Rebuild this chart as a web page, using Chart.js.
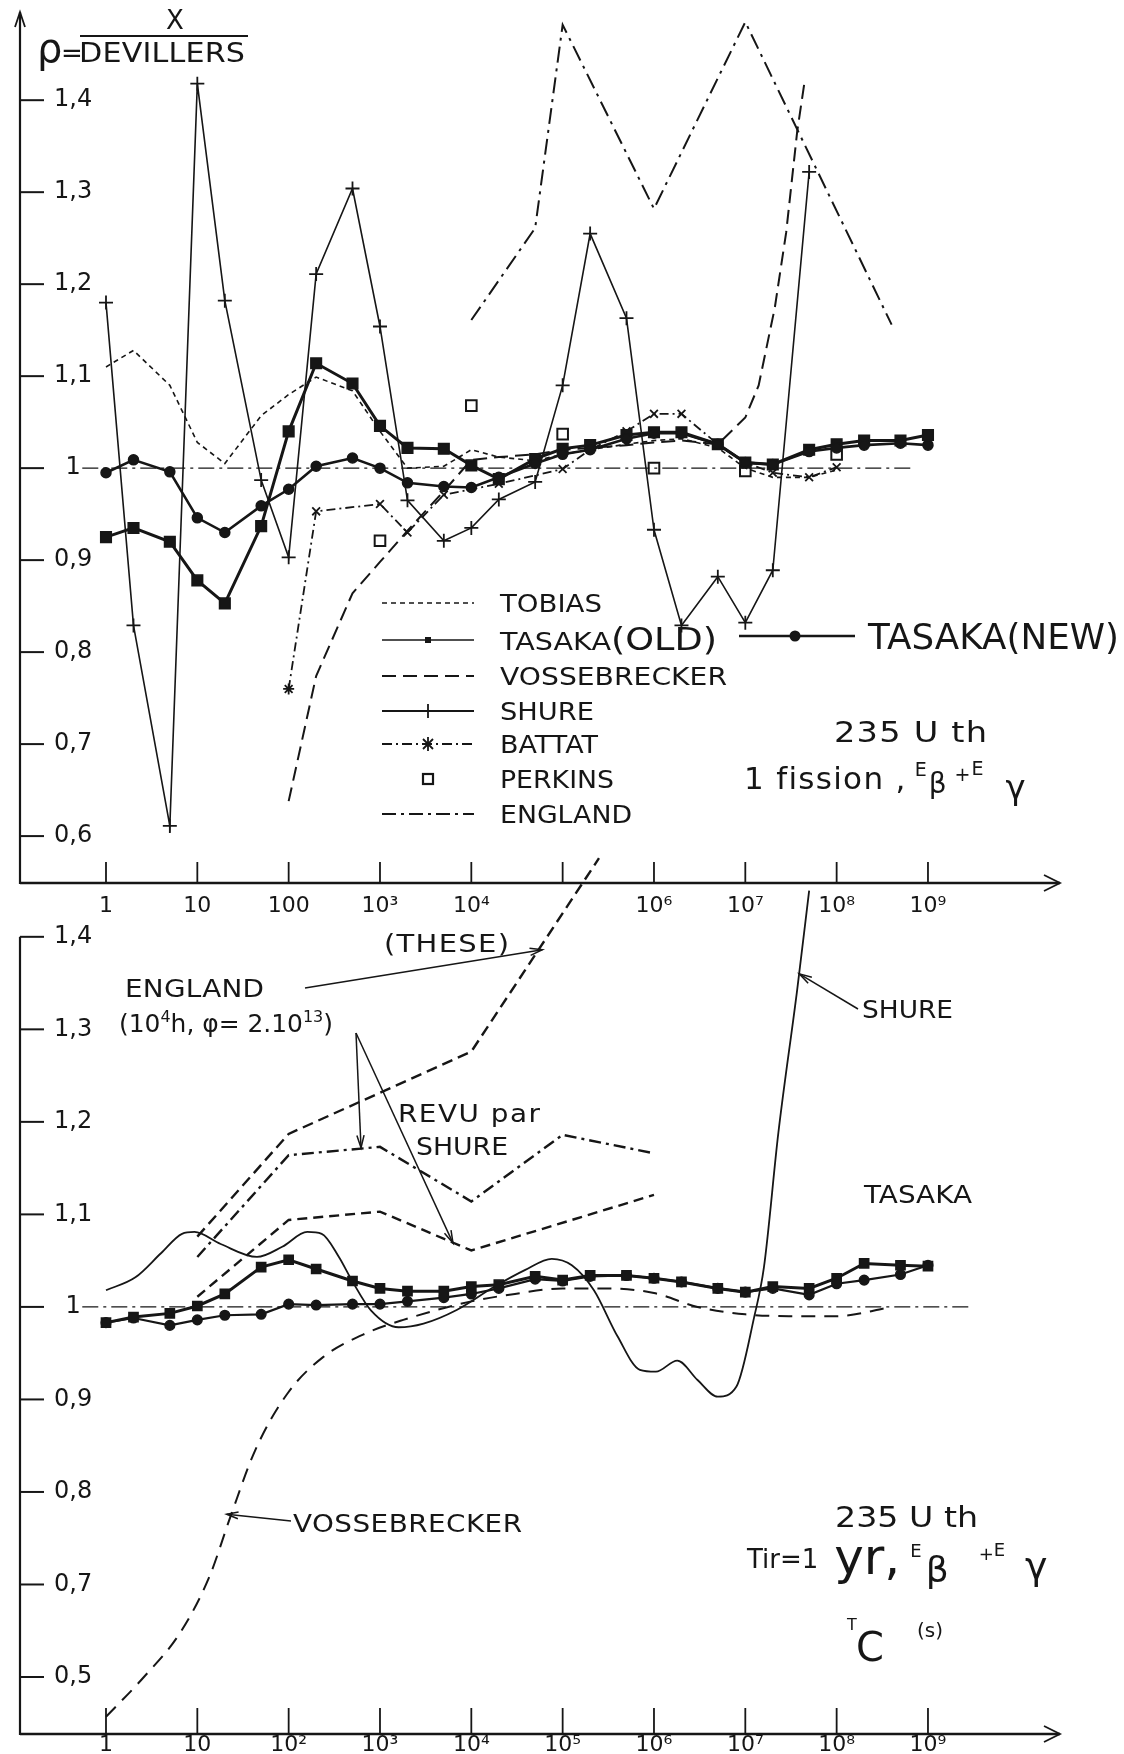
<!DOCTYPE html>
<html lang="fr">
<head>
<meta charset="utf-8">
<title>235U th : rho = X / DEVILLERS</title>
<script src="https://cdn.jsdelivr.net/npm/chart.js"></script>
<style>
html,body{margin:0;padding:0;background:#fff;}
#wrap{position:relative;width:1124px;height:1754px;overflow:hidden;background:#fff;}
#wrap canvas{position:absolute;left:0;}
#c1{top:0;}
#c2{top:840px;}
.t{position:absolute;font-family:"DejaVu Sans",sans-serif;line-height:1;white-space:nowrap;color:#161616;}
.t span,.t sup{line-height:0;}
.bar{position:absolute;background:#161616;height:2px;}
</style>
</head>
<body>
<div id="wrap">
<canvas id="c1" width="1124" height="940"></canvas>
<canvas id="c2" width="1124" height="914"></canvas>
</div>
<script>
// ================= DATA =================
// axis ticks
const xTickValues = [1,10,100,1e3,1e4,1e5,1e6,1e7,1e8,1e9];
const xLabelsTop = ['1','10','100','10³','10⁴','','10⁶','10⁷','10⁸','10⁹'];
const xLabelsBottom = ['1','10','10²','10³','10⁴','10⁵','10⁶','10⁷','10⁸','10⁹'];
const yTickValues = [0.6,0.7,0.8,0.9,1.0,1.1,1.2,1.3,1.4];
const yLabelsTop = ['0,6','0,7','0,8','0,9','1','1,1','1,2','1,3','1,4'];
const yLabelsBottom = ['0,5','0,7','0,8','0,9','1','1,1','1,2','1,3','1,4'];

// ---- top panel : 1 fission ----
const topT = [1,2,5,10,20,50,100,200,500,1e3,2e3,5e3,1e4,2e4,5e4,1e5,2e5,5e5,1e6,2e6,5e6,1e7,2e7,5e7,1e8,2e8,5e8,1e9];
const tasakaNewTop = [0.995,1.009,0.996,0.946,0.930,0.959,0.977,1.002,1.011,1.000,0.984,0.980,0.979,0.990,1.005,1.015,1.020,1.032,1.038,1.038,1.026,1.006,1.004,1.018,1.022,1.025,1.027,1.025];
const tasakaOldTop = [0.925,0.935,0.920,0.878,0.853,0.937,1.040,1.114,1.092,1.046,1.022,1.021,1.003,0.988,1.010,1.021,1.025,1.036,1.039,1.039,1.026,1.006,1.004,1.020,1.026,1.030,1.030,1.036];
const shureTopT = [1,2,5,10,20,50,100,200,500,1e3,2e3,5e3,1e4,2e4,5e4,1e5,2e5,5e5,1e6,2e6,5e6,1e7,2e7,5e7];
const shureTop = [1.180,0.829,0.611,1.418,1.182,0.987,0.903,1.211,1.304,1.154,0.965,0.921,0.935,0.966,0.985,1.090,1.255,1.163,0.933,0.829,0.882,0.832,0.889,1.322];
const tobiasT = [1,2,5,10,20,50,100,200,500,1e3,2e3,5e3,1e4,2e4,5e4,1e5,2e5,5e5,1e6,2e6,5e6,1e7,2e7,5e7,1e8];
const tobias = [1.110,1.128,1.090,1.028,1.005,1.057,1.080,1.099,1.084,1.040,1.000,1.002,1.020,1.012,1.008,1.015,1.020,1.026,1.030,1.032,1.022,1.000,0.990,0.990,0.998];
const vossTopT = [100,200,500,1e3,2e3,5e3,1e4,2e4,5e4,1e5,2e5,5e5,1e6,2e6,5e6,1e7,1.4e7,2.1e7,2.8e7,3.7e7,4.5e7];
const vossTop = [0.638,0.774,0.864,0.898,0.932,0.975,1.009,1.012,1.015,1.020,1.022,1.025,1.028,1.030,1.026,1.055,1.090,1.174,1.256,1.366,1.423];
const battatT = [100,200,1e3,2e3,5e3,2e4,1e5,2e5,5e5,1e6,2e6,5e6,1e7,2e7,5e7,1e8];
const battat = [0.760,0.953,0.961,0.930,0.971,0.983,0.999,1.020,1.040,1.059,1.059,1.026,1.006,0.995,0.990,1.001];
const perkinsT = [1e3,1e4,1e5,1e6,1e7,1e8];
const perkins = [0.921,1.068,1.037,1.000,0.997,1.015];
const englandTopT = [1e4,5e4,1e5,1e6,1e7,4e8];
const englandTop = [1.161,1.261,1.482,1.282,1.485,1.156];
const refTopT = [0.55,7e8];
const refTopV = [1,1];

// ---- bottom panel : Tir = 1 yr ----
const botT = [1,2,5,10,20,50,100,200,500,1e3,2e3,5e3,1e4,2e4,5e4,1e5,2e5,5e5,1e6,2e6,5e6,1e7,2e7,5e7,1e8,2e8,5e8,1e9];
const tasakaBotA = [0.983,0.989,0.993,1.001,1.014,1.043,1.051,1.041,1.028,1.020,1.017,1.017,1.022,1.024,1.033,1.029,1.034,1.034,1.031,1.027,1.020,1.016,1.022,1.020,1.031,1.047,1.045,1.044];
const tasakaBotB = [0.983,0.988,0.980,0.986,0.991,0.992,1.003,1.002,1.003,1.003,1.006,1.010,1.014,1.020,1.030,1.028,1.033,1.034,1.031,1.027,1.020,1.016,1.020,1.013,1.025,1.029,1.035,1.045];
const shureBotT = [1,2.1,4,6.8,9.3,18,45,85,160,230,355,490,800,1600,3000,7000,1.8e4,3.9e4,7.6e4,1.26e5,2.2e5,4e5,7e5,1.05e6,1.8e6,3e6,5e6,8e6,1.25e7,1.6e7,2.3e7,3.7e7,5e7];
const shureBot = [1.018,1.032,1.058,1.079,1.081,1.068,1.054,1.065,1.081,1.079,1.054,1.029,0.996,0.978,0.982,0.997,1.022,1.040,1.052,1.045,1.018,0.968,0.932,0.930,0.942,0.921,0.903,0.914,0.989,1.043,1.188,1.343,1.450];
const vossBotT = [1,2.6,6.5,13.5,23,43,98,240,720,1800,1e4,3e4,1e5,3e5,1e6,3e6,1e7,3e7,1e8,4e8];
const vossBot = [0.557,0.600,0.648,0.708,0.773,0.845,0.907,0.946,0.972,0.986,1.006,1.014,1.020,1.020,1.015,1.000,0.992,0.990,0.990,1.000];
const englandBotT = [10,100,1e4,2.5e5];
const englandBot = [1.076,1.187,1.276,1.485];
const revuUpperT = [10,100,1e3,1e4,1e5,1e6];
const revuUpper = [1.054,1.164,1.173,1.114,1.186,1.166];
const revuLowerT = [10,100,1e3,1e4,1e6];
const revuLower = [1.011,1.094,1.103,1.061,1.121];
const refBotT = [0.55,3e9];
const refBotV = [1,1];

// annotation arrow targets (data coordinates)
const noteTargets = {england:[6e4,1.386], revu1:[620,1.172], revu2:[6300,1.069], shure:[3.9e7,1.36], voss:[21,0.776]};

// ================= STYLE / LAYOUT =================
const INK = '#161616';
const FONT = '"DejaVu Sans", sans-serif';
const X_MIN = Math.pow(10, -0.9416), X_MAX = Math.pow(10, 10.4456);
const BOT_OFFSET = 840;

function series(label, T, V, o) {
  return Object.assign({
    label, data: T.map((t, i) => ({x: t, y: V[i]})),
    borderColor: INK, backgroundColor: INK, borderWidth: 2, borderDash: [],
    pointRadius: 0, pointHoverRadius: 0, pointBorderColor: INK, pointBackgroundColor: INK,
    pointBorderWidth: 1.5, fill: false, tension: 0, clip: false
  }, o);
}

function xAxis(labels, pad, height) {
  return {
    type: 'logarithmic', min: X_MIN, max: X_MAX,
    grid: {display: false, drawTicks: false}, border: {display: false},
    afterBuildTicks: s => { s.ticks = xTickValues.map(v => ({value: v})); },
    afterFit: s => { s.height = height; s.paddingLeft = 0; s.paddingRight = 0; },
    ticks: {autoSkip: false, maxRotation: 0, minRotation: 0, padding: pad, color: INK,
      font: {family: FONT, size: 22, lineHeight: 1}, callback: (v, i) => labels[i]}
  };
}
function yAxis(min, max, labels) {
  return {
    type: 'linear', min, max,
    grid: {display: false, drawTicks: false}, border: {display: false},
    afterBuildTicks: s => { s.ticks = yTickValues.map(v => ({value: v})); },
    afterFit: s => { s.width = 0; s.paddingTop = 0; s.paddingBottom = 0; },
    ticks: {mirror: true, crossAlign: 'center', padding: 34, color: INK,
      font: {family: FONT, size: 24}, callback: (v, i) => labels[i]}
  };
}

function drawAxes(ctx, a, x, y, yAxisTop, arrowUp, tickLen) {
  ctx.setLineDash([]); ctx.strokeStyle = INK; ctx.lineWidth = 2.2;
  ctx.beginPath(); ctx.moveTo(a.left, a.bottom + 1); ctx.lineTo(a.left, yAxisTop); ctx.stroke();
  if (arrowUp) {
    ctx.lineWidth = 1.8;
    ctx.beginPath(); ctx.moveTo(a.left - 5, yAxisTop + 15); ctx.lineTo(a.left, yAxisTop); ctx.lineTo(a.left + 5, yAxisTop + 15); ctx.stroke();
  }
  ctx.lineWidth = 2;
  yTickValues.forEach(v => {
    const py = y.getPixelForValue(v);
    ctx.beginPath(); ctx.moveTo(a.left, py); ctx.lineTo(a.left + 24, py); ctx.stroke();
  });
  ctx.lineWidth = 2.4;
  ctx.beginPath(); ctx.moveTo(a.left, a.bottom); ctx.lineTo(a.right, a.bottom); ctx.stroke();
  ctx.lineWidth = 1.8;
  ctx.beginPath(); ctx.moveTo(a.right - 16, a.bottom - 8); ctx.lineTo(a.right, a.bottom); ctx.lineTo(a.right - 16, a.bottom + 8); ctx.stroke();
  xTickValues.forEach(t => {
    const px = x.getPixelForValue(t);
    ctx.beginPath(); ctx.moveTo(px, a.bottom); ctx.lineTo(px, a.bottom - tickLen); ctx.stroke();
  });
}

function marker(ctx, kind, cx, cy) {
  ctx.setLineDash([]); ctx.lineWidth = 1.8;
  if (kind === 'smallsq') { ctx.fillRect(cx - 3, cy - 3, 6, 6); }
  else if (kind === 'plus') {
    ctx.beginPath(); ctx.moveTo(cx - 7, cy); ctx.lineTo(cx + 7, cy); ctx.moveTo(cx, cy - 7); ctx.lineTo(cx, cy + 7); ctx.stroke();
  } else if (kind === 'star') {
    ctx.beginPath();
    ctx.moveTo(cx - 5, cy - 5); ctx.lineTo(cx + 5, cy + 5); ctx.moveTo(cx + 5, cy - 5); ctx.lineTo(cx - 5, cy + 5);
    ctx.moveTo(cx, cy - 7); ctx.lineTo(cx, cy + 7); ctx.stroke();
  } else if (kind === 'hollowsq') {
    ctx.lineWidth = 2.2; ctx.strokeRect(cx - 5, cy - 5, 10, 10);
  } else if (kind === 'dot') {
    ctx.beginPath(); ctx.arc(cx, cy, 5.5, 0, Math.PI * 2); ctx.fill();
  }
}

const LEG_X0 = 382, LEG_X1 = 474;
const legendRows = [
  {y: 603, dash: [5, 4], lw: 1.6},
  {y: 640, dash: [], lw: 1.4, marker: 'smallsq'},
  {y: 676, dash: [14, 7], lw: 2},
  {y: 711, dash: [], lw: 2.2, marker: 'plus'},
  {y: 744, dash: [10, 4, 2, 4], lw: 2, marker: 'star'},
  {y: 779, noline: true, marker: 'hollowsq'},
  {y: 814, dash: [14, 5, 3, 5], lw: 2}
];

const topDecor = {
  id: 'topDecor',
  afterDraw(chart) {
    const {ctx, chartArea: a, scales: {x, y}} = chart;
    ctx.save(); ctx.strokeStyle = INK; ctx.fillStyle = INK;
    drawAxes(ctx, a, x, y, a.top - 10, true, 21);
    legendRows.forEach(r => {
      if (!r.noline) {
        ctx.lineWidth = r.lw; ctx.setLineDash(r.dash);
        ctx.beginPath(); ctx.moveTo(LEG_X0, r.y); ctx.lineTo(LEG_X1, r.y); ctx.stroke();
      }
      if (r.marker) marker(ctx, r.marker, (LEG_X0 + LEG_X1) / 2, r.y);
    });
    ctx.setLineDash([]); ctx.lineWidth = 2.6;
    ctx.beginPath(); ctx.moveTo(739, 636); ctx.lineTo(855, 636); ctx.stroke();
    marker(ctx, 'dot', 795, 636);
    ctx.restore();
  }
};

function arrowLine(ctx, x0, y0, x1, y1, head) {
  ctx.beginPath(); ctx.moveTo(x0, y0); ctx.lineTo(x1, y1); ctx.stroke();
  const ang = Math.atan2(y1 - y0, x1 - x0);
  ctx.beginPath();
  ctx.moveTo(x1 - head * Math.cos(ang - 0.28), y1 - head * Math.sin(ang - 0.28));
  ctx.lineTo(x1, y1);
  ctx.lineTo(x1 - head * Math.cos(ang + 0.28), y1 - head * Math.sin(ang + 0.28));
  ctx.stroke();
}

const bottomDecor = {
  id: 'bottomDecor',
  afterDraw(chart) {
    const {ctx, chartArea: a, scales: {x, y}} = chart;
    ctx.save(); ctx.strokeStyle = INK; ctx.fillStyle = INK;
    drawAxes(ctx, a, x, y, y.getPixelForValue(1.4), false, 26);
    const P = k => [x.getPixelForValue(noteTargets[k][0]), y.getPixelForValue(noteTargets[k][1])];
    ctx.setLineDash([]); ctx.lineWidth = 1.5;
    let p = P('england'); arrowLine(ctx, 305, 988 - BOT_OFFSET, p[0], p[1], 13);
    p = P('revu1'); arrowLine(ctx, 356, 1033 - BOT_OFFSET, p[0], p[1], 13);
    p = P('revu2'); arrowLine(ctx, 356, 1033 - BOT_OFFSET, p[0], p[1], 13);
    p = P('shure'); arrowLine(ctx, 858, 1009 - BOT_OFFSET, p[0], p[1], 13);
    p = P('voss'); arrowLine(ctx, 291, 1521 - BOT_OFFSET, p[0], p[1], 12);
    ctx.restore();
  }
};

const common = {
  responsive: false, animation: false, devicePixelRatio: 1, events: [],
  plugins: {legend: {display: false}, tooltip: {enabled: false}}
};

new Chart(document.getElementById('c1'), {
  type: 'line',
  data: {datasets: [
    series('TASAKA(NEW)', topT, tasakaNewTop, {borderWidth: 2.6, pointRadius: 5, pointStyle: 'circle'}),
    series('TASAKA(OLD)', topT, tasakaOldTop, {borderWidth: 3, pointRadius: 7.5, pointStyle: 'rect'}),
    series('SHURE', shureTopT, shureTop, {borderWidth: 1.6, pointRadius: 7, pointStyle: 'cross', pointBorderWidth: 1.8}),
    series('BATTAT', battatT, battat, {borderWidth: 1.8, borderDash: [9, 4, 2, 4], pointRadius: 5.5,
      pointStyle: c => c.dataIndex === 0 ? 'star' : 'crossRot', pointBorderWidth: 1.8}),
    series('PERKINS', perkinsT, perkins, {showLine: false, pointRadius: 7.5, pointStyle: 'rect',
      pointBackgroundColor: 'rgba(255,255,255,0)', pointBorderWidth: 2}),
    series('ENGLAND', englandTopT, englandTop, {borderWidth: 2, borderDash: [16, 6, 3, 6]}),
    series('VOSSEBRECKER', vossTopT, vossTop, {borderWidth: 2, borderDash: [14, 7]}),
    series('TOBIAS', tobiasT, tobias, {borderWidth: 1.6, borderDash: [5, 4]}),
    series('DEVILLERS', refTopT, refTopV, {borderWidth: 1.3, borderDash: [16, 5, 3, 5]})
  ]},
  options: Object.assign({}, common, {
    layout: {padding: {left: 20, right: 64, top: 22, bottom: 0}},
    scales: {x: xAxis(xLabelsTop, 12, 57), y: yAxis(0.549, 1.485, yLabelsTop)}
  }),
  plugins: [topDecor]
});

new Chart(document.getElementById('c2'), {
  type: 'line',
  data: {datasets: [
    series('TASAKA A', botT, tasakaBotA, {borderWidth: 3, pointRadius: 6.5, pointStyle: 'rect'}),
    series('TASAKA B', botT, tasakaBotB, {borderWidth: 2.2, pointRadius: 4.8, pointStyle: 'circle'}),
    series('SHURE', shureBotT, shureBot, {borderWidth: 1.8, cubicInterpolationMode: 'monotone'}),
    series('ENGLAND', englandBotT, englandBot, {borderWidth: 2.4, borderDash: [11, 6]}),
    series('REVU par SHURE (1)', revuUpperT, revuUpper, {borderWidth: 2.4, borderDash: [12, 5, 3, 5]}),
    series('REVU par SHURE (2)', revuLowerT, revuLower, {borderWidth: 2.4, borderDash: [10, 6]}),
    series('VOSSEBRECKER', vossBotT, vossBot, {borderWidth: 2, borderDash: [14, 9], cubicInterpolationMode: 'monotone'}),
    series('DEVILLERS', refBotT, refBotV, {borderWidth: 1.3, borderDash: [16, 5, 3, 5]})
  ]},
  options: Object.assign({}, common, {
    layout: {padding: {left: 20, right: 64, top: 8, bottom: 0}},
    scales: {x: xAxis(xLabelsBottom, 0, 20), y: yAxis(0.5384, 1.496, yLabelsBottom)}
  }),
  plugins: [bottomDecor]
});

// ================= TEXT (real DOM text) =================
const wrap = document.getElementById('wrap');
function addText(html, left, baseline, size, width, maxScale) {
  const d = document.createElement('div');
  d.className = 't'; d.innerHTML = html;
  d.style.fontSize = size + 'px';
  d.style.left = left + 'px';
  d.style.top = (baseline - 0.846 * size) + 'px';
  wrap.appendChild(d);
  if (width) {
    const w0 = d.getBoundingClientRect().width;
    const k = Math.min(Math.max(width / w0, 0.85), maxScale || 1.16);
    d.style.transformOrigin = '0 0';
    d.style.transform = 'scaleX(' + k + ')';
    const n = d.textContent.length;
    const rest = width - w0 * k;
    if (n > 1 && rest > 0) d.style.letterSpacing = (rest / k / (n - 1)) + 'px';
  }
  return d;
}
function addBar(x0, x1, y) {
  const b = document.createElement('div'); b.className = 'bar';
  b.style.left = x0 + 'px'; b.style.top = y + 'px'; b.style.width = (x1 - x0) + 'px';
  wrap.appendChild(b);
}

// top panel texts
addText('ρ', 37, 62, 40);
addText('=', 61, 62, 26);
addText('X', 166, 29, 26);
addBar(80, 248, 35);
addText('DEVILLERS', 79, 62, 26, 166);
addText('TOBIAS', 500, 612, 25, 102);
addText('TASAKA<span style="font-size:32px">(OLD)</span>', 500, 650, 25, 217);
addText('VOSSEBRECKER', 500, 685, 25, 227);
addText('SHURE', 500, 720, 25, 94);
addText('BATTAT', 500, 753, 25, 98);
addText('PERKINS', 500, 788, 25, 114);
addText('ENGLAND', 500, 823, 25, 132);
addText('TASAKA(NEW)', 868, 650, 35, 251);
addText('235 U th', 834, 743, 29, 153);
addText('<span style="letter-spacing:1.3px">1 fission ,</span>' +
  '<span style="font-size:19px;vertical-align:13px;margin-left:8px">E</span>' +
  '<span style="font-size:28px;vertical-align:-4px;margin-left:2px">β</span>' +
  '<span style="font-size:19px;vertical-align:8px;margin-left:8px">+</span>' +
  '<span style="font-size:19px;vertical-align:14px;margin-left:1px">E</span>' +
  '<span style="font-size:34px;vertical-align:-10px;margin-left:22px">γ</span>', 744, 789, 31);
addText('(THESE)', 384, 952, 25, 125);

// bottom panel texts
addText('ENGLAND', 125, 997, 24, 139);
addText('(10<sup style="font-size:16px;vertical-align:10px">4</sup>h, φ= 2.10<sup style="font-size:16px;vertical-align:10px">13</sup>)', 119, 1032, 25, 214);
addText('REVU par', 398, 1122, 24, 142);
addText('SHURE', 416, 1155, 24, 92);
addText('SHURE', 862, 1018, 24, 91);
addText('TASAKA', 864, 1203, 24, 108);
addText('VOSSEBRECKER', 293, 1532, 24, 229);
addText('235 U th', 835, 1528, 29, 143);
addText('Tir=1' +
  '<span style="font-size:50px;vertical-align:-6px"> yr,</span>' +
  '<span style="font-size:18px;vertical-align:11px;margin-left:10px">E</span>' +
  '<span style="font-size:36px;vertical-align:-14px;margin-left:4px">β</span>' +
  '<span style="font-size:18px;vertical-align:8px;margin-left:30px">+</span>' +
  '<span style="font-size:18px;vertical-align:12px">E</span>' +
  '<span style="font-size:38px;vertical-align:-11px;margin-left:20px">γ</span>', 747, 1568, 26);
addText('T', 847, 1631, 16);
addText('C', 856, 1661, 40);
addText('(s)', 917, 1637, 20);
</script>
</body>
</html>
